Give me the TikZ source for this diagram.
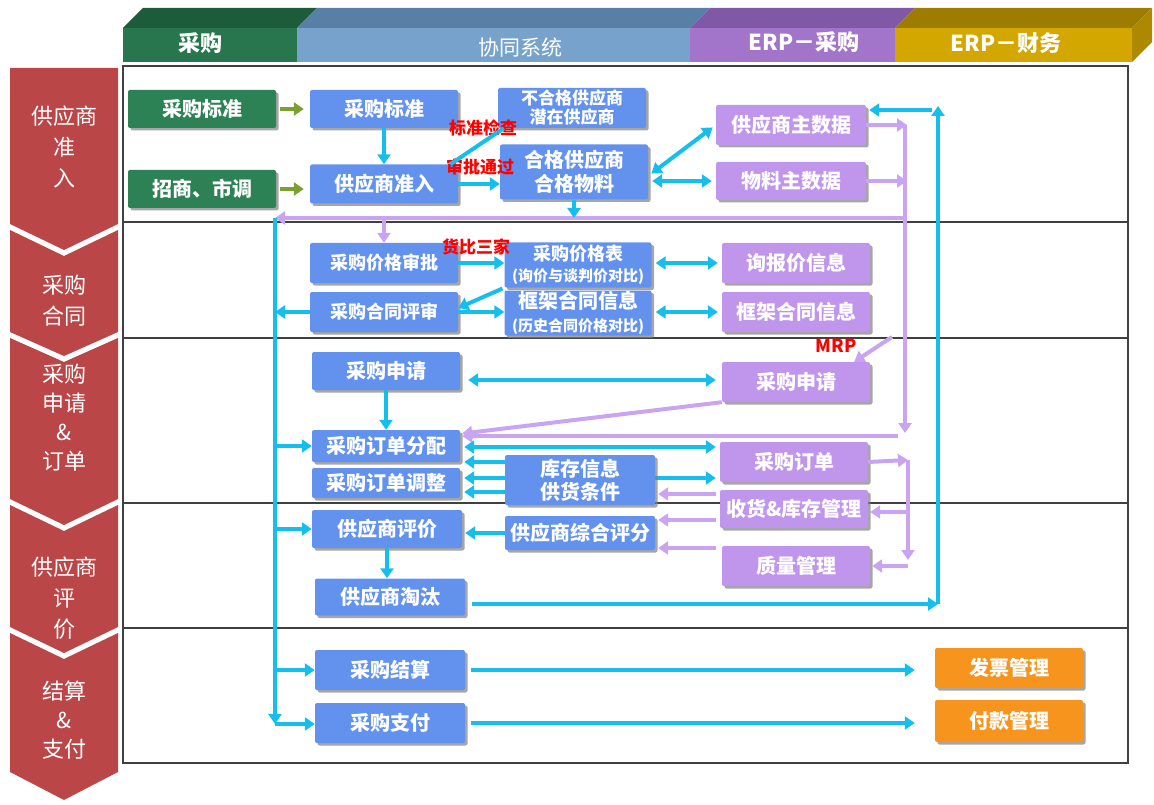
\documentclass[tikz,border=0pt]{standalone}
\usepackage{fontspec}
\setmainfont{Noto Sans CJK SC}
\usepackage{tikz}
\usetikzlibrary{arrows.meta, shadows, backgrounds, positioning}
\definecolor{boxblue}{RGB}{98,146,238}
\definecolor{boxpurple}{RGB}{192,150,236}
\definecolor{boxgreen}{RGB}{44,130,84}
\definecolor{boxorange}{RGB}{247,148,30}
\definecolor{linecyan}{RGB}{22,190,236}
\definecolor{linepurple}{RGB}{202,164,242}
\definecolor{linegreen}{RGB}{122,160,48}
\definecolor{stagered}{RGB}{186,70,72}
\definecolor{hdgreen}{RGB}{40,118,78}
\definecolor{hdgreentop}{RGB}{28,92,58}
\definecolor{hdblue}{RGB}{118,162,204}
\definecolor{hdbluetop}{RGB}{88,128,166}
\definecolor{hdpurple}{RGB}{162,116,202}
\definecolor{hdpurpletop}{RGB}{128,88,166}
\definecolor{hdgold}{RGB}{212,166,0}
\definecolor{hdgoldtop}{RGB}{158,124,0}
\tikzstyle{flowbox} = [rectangle, rounded corners=2pt, minimum width=148pt, minimum height=38pt, inner sep=0pt, text=white, align=center, font=\fontsize{20}{23}\selectfont\bfseries, drop shadow={shadow xshift=2.5pt, shadow yshift=-2.5pt, fill=black!50, opacity=0.7}]
\tikzstyle{bluebox} = [flowbox, fill=boxblue]
\tikzstyle{purplebox} = [flowbox, fill=boxpurple]
\tikzstyle{greenbox} = [flowbox, fill=boxgreen]
\tikzstyle{orangebox} = [flowbox, fill=boxorange]
\tikzstyle{cyanline} = [line width=4pt, draw=linecyan]
\tikzstyle{cyanarrow} = [cyanline, -{Triangle[width=13pt,length=10pt]}]
\tikzstyle{cyanboth} = [cyanline, {Triangle[width=13pt,length=10pt]}-{Triangle[width=13pt,length=10pt]}]
\tikzstyle{purplearrow} = [line width=4pt, draw=linepurple, -{Triangle[width=13pt,length=10pt]}]
\tikzstyle{greenarrow} = [line width=4pt, draw=linegreen, -{Triangle[width=13pt,length=10pt]}]
\tikzstyle{redlabel} = [text=red, inner sep=0pt, font=\fontsize{17}{19}\selectfont\bfseries]
\tikzstyle{stage} = [fill=stagered]
\tikzstyle{stagetext} = [text=white, align=center, inner sep=0pt, font=\fontsize{22}{31}\selectfont]
\tikzstyle{headtext} = [text=white, inner sep=0pt, font=\fontsize{22}{24}\selectfont\bfseries]

\begin{document}
\begin{tikzpicture}[x=1pt, y=-1pt]
\useasboundingbox (0,0) rectangle (1154,805);
% Header bar
\fill[hdgreentop] (123,28) -- (143,8) -- (317,8) -- (297,28) -- cycle;
\fill[hdgreen] (123,28) rectangle (297,62);
\fill[hdbluetop] (297,28) -- (317,8) -- (710,8) -- (690,28) -- cycle;
\fill[hdblue] (297,28) rectangle (690,62);
\fill[hdpurpletop] (690,28) -- (710,8) -- (915,8) -- (895,28) -- cycle;
\fill[hdpurple] (690,28) rectangle (895,62);
\fill[hdgoldtop] (895,28) -- (915,8) -- (1152,8) -- (1132,28) -- cycle;
\fill[hdgold] (895,28) rectangle (1132,62);
\fill[hdgoldtop!70!hdgold] (1132,28) -- (1152,8) -- (1152,42) -- (1132,62) -- cycle;
\node (hBuy) [headtext] at (200,43) {采购};
\node (hCoop) [headtext, font=\fontsize{21}{23}\selectfont] at (520,48) {协同系统};
\node (hErpBuy) [headtext] at (804,42) {ERP－采购};
\node (hErpFin) [headtext] at (1006,43) {ERP－财务};
% Frame and rows
\draw[black!75, line width=1.5pt] (123,66) rectangle (1128,763);
\foreach \y in {222,338,503,628}
  \draw[black!75, line width=1.5pt] (123,\y) -- (1128,\y);
% Stages
\fill[stage] (10,68) -- (118,68) -- (118,224) -- (64,250) -- (10,224) -- cycle;
\fill[stage] (10,230) -- (64,256) -- (118,230) -- (118,332) -- (64,356) -- (10,332) -- cycle;
\fill[stage] (10,338) -- (64,362) -- (118,338) -- (118,499) -- (64,525) -- (10,499) -- cycle;
\fill[stage] (10,505) -- (64,531) -- (118,505) -- (118,627) -- (64,653) -- (10,627) -- cycle;
\fill[stage] (10,633) -- (64,659) -- (118,633) -- (118,772) -- (64,800) -- (10,772) -- cycle;
\node (st1) [stagetext] at (64,147) {供应商\\准\\入};
\node (st2) [stagetext] at (64,301) {采购\\合同};
\node (st3) [stagetext, font=\fontsize{22}{29}\selectfont] at (64,418) {采购\\申请\\\&\\订单};
\node (st4) [stagetext] at (64,598) {供应商\\评\\价};
\node (st5) [stagetext, font=\fontsize{22}{29}\selectfont] at (64,720) {结算\\\&\\支付};
% Define nodes
\node (gStd) [greenbox] at (202,109) {采购标准};
\node (gBid) [greenbox] at (202,189) {招商、市调};
\node (bStd) [bluebox] at (384,109) {采购标准};
\node (bAdmit) [bluebox, minimum height=39pt] at (384,184) {供应商准入};
\node (bUnq) [bluebox, minimum height=40pt, font=\fontsize{17}{19}\selectfont\bfseries] at (572,108) {不合格供应商\\潜在供应商};
\node (bQual) [bluebox, minimum height=55pt, font=\fontsize{20}{24}\selectfont\bfseries] at (574,172) {合格供应商\\合格物料};
\node (pSup) [purplebox, minimum width=150pt, minimum height=40pt] at (791,125) {供应商主数据};
\node (pMat) [purplebox, minimum width=150pt] at (791,181) {物料主数据};
\node (bPriceAp) [bluebox, minimum height=40pt, font=\fontsize{18}{21}\selectfont\bfseries] at (384,263) {采购价格审批};
\node (bPriceTab) [bluebox, minimum width=147pt, minimum height=45pt, font=\fontsize{18}{21}\selectfont\bfseries] at (578,265) {采购价格表\\{\fontsize{15}{17}\selectfont (询价与谈判价对比)}};
\node (bContRev) [bluebox, minimum height=40pt, font=\fontsize{18}{21}\selectfont\bfseries] at (384,312) {采购合同评审};
\node (bFrame) [bluebox, minimum width=147pt, minimum height=45pt] at (578,313) {框架合同信息\\{\fontsize{15}{17}\selectfont (历史合同价格对比)}};
\node (pQuote) [purplebox, minimum height=40pt] at (796,263) {询报价信息};
\node (pFrame) [purplebox, minimum height=40pt] at (796,312) {框架合同信息};
\node (bReq) [bluebox] at (386,371) {采购申请};
\node (pReq) [purplebox, minimum height=40pt] at (796,382) {采购申请};
\node (bAlloc) [bluebox, minimum height=32pt] at (386,446) {采购订单分配};
\node (bAdj) [bluebox, minimum height=30pt] at (386,483) {采购订单调整};
\node (bStock) [bluebox, minimum width=150pt, minimum height=50pt] at (580,480) {库存信息\\供货条件};
\node (pOrder) [purplebox, minimum height=40pt] at (794,462) {采购订单};
\node (pRecv) [purplebox] at (794,509) {收货\&库存管理};
\node (pQlty) [purplebox, minimum height=40pt] at (796,566) {质量管理};
\node (bEval) [bluebox, minimum width=150pt] at (387,529) {供应商评价};
\node (bScore) [bluebox, minimum width=150pt, minimum height=34pt] at (580,533) {供应商综合评分};
\node (bElim) [bluebox, minimum width=150pt, minimum height=37pt] at (390,597) {供应商淘汰};
\node (bSettle) [bluebox, minimum width=150pt, minimum height=40pt] at (390,670) {采购结算};
\node (bPay) [bluebox, minimum width=150pt, minimum height=40pt] at (390,723) {采购支付};
\node (oInv) [orangebox, minimum height=40pt] at (1009,668) {发票管理};
\node (oPaym) [orangebox, minimum height=42pt] at (1009,721) {付款管理};
\node (lbCheck) [redlabel] at (483,128) {标准检查};
\node (lbPass) [redlabel] at (480,167) {审批通过};
\node (lbThree) [redlabel] at (476,247) {货比三家};
\node (lbMrp) [redlabel, font=\fontsize{18}{20}\selectfont\bfseries] at (836,346) {MRP};
% Junction points
\coordinate (lTop) at (275,218);
\coordinate (lBot) at (275,716);
\coordinate (pMid) at (905,218);
\coordinate (pvTop) at (905,125);
\coordinate (pvBot) at (905,433);
\coordinate (pOrdIn) at (898,436);
\coordinate (mrp) at (892,337);
\coordinate (s1) at (505,462);
\coordinate (s2) at (466,478);
\coordinate (s3) at (505,492);
\coordinate (r1) at (716,494);
\coordinate (r2) at (716,520);
\coordinate (r3) at (716,548);
\coordinate (qTop) at (908,460);
\coordinate (qBot) at (908,560);
\coordinate (q1) at (908,512);
\coordinate (q2) at (908,566);
\coordinate (elim) at (472,604);
\coordinate (rvBot) at (938,604);
\coordinate (rvTop) at (938,106);
\coordinate (rvTurn) at (932,110);
% Connect nodes with arrows
\begin{scope}[on background layer]
\draw[cyanboth, shorten <=4pt, shorten >=4pt] (s2 -| bAdj.east) -- (s2 -| pOrder.west);
\end{scope}
\draw[greenarrow, shorten <=4pt, shorten >=6pt] (gStd) -- (bStd);
\draw[greenarrow, shorten <=4pt, shorten >=6pt] (gBid.east) -- (gBid.east -| bAdmit.west);
\draw[cyanarrow] (bStd) -- (bAdmit);
\draw[cyanline] ([xshift=-8pt]bAdmit.north east) -- ([xshift=6pt]bUnq.south west);
\draw[cyanarrow] (bAdmit.east) -- (bAdmit.east -| bQual.west);
\draw[cyanboth, shorten <=4pt, shorten >=4pt] ([yshift=-4pt]bQual.east) -- (pSup.west);
\draw[cyanboth, shorten <=4pt, shorten >=4pt] (pMat.west -| bQual.east) -- (pMat.west);
\draw[purplearrow, shorten >=-2pt] (pSup.east) -- (pSup.east -| pvTop);
\draw[purplearrow, shorten >=-2pt] (pMat.east) -- (pMat.east -| pvTop);
\draw[purplearrow] (pvTop) -- (pvBot);
\draw[purplearrow] (pMid) -- (lTop);
\draw[cyanarrow] (bQual.south) -- (bQual.south |- pMid);
\draw[purplearrow] (bPriceAp.north |- pMid) -- (bPriceAp.north);
\draw[cyanline] (lTop) -- (lBot);
\draw[cyanarrow, shorten >=-4pt] (lBot) -- ++(0,4);
\draw[cyanarrow] (bPriceAp.east) -- (bPriceAp.east -| bPriceTab.west);
\draw[cyanarrow, shorten <=2pt] (bPriceTab.south west) -- ([yshift=4pt]bContRev.east);
\draw[cyanarrow] (bContRev.east) -- (bContRev.east -| bFrame.west);
\draw[cyanarrow] (bContRev.west) -- (bContRev.west -| lTop);
\draw[cyanboth, shorten <=4pt, shorten >=4pt] (pQuote.west -| bPriceTab.east) -- (pQuote.west);
\draw[cyanboth, shorten <=4pt, shorten >=4pt] (pFrame.west -| bFrame.east) -- (pFrame.west);
\draw[cyanboth, shorten <=8pt, shorten >=6pt] ([yshift=-9pt]bReq.east) -- ([yshift=-9pt]bReq.east -| pReq.west);
\draw[purplearrow] (mrp) -- ([xshift=-16pt]pReq.north east);
\draw[cyanarrow] (bReq) -- (bAlloc);
\draw[purplearrow, shorten >=2pt] (pReq.south west) -- ([yshift=-4pt]bAlloc.north east);
\draw[purplearrow, shorten >=2pt] (pOrdIn) -- (pOrdIn -| bAlloc.east);
\draw[cyanboth, shorten <=4pt, shorten >=4pt] ([yshift=-1pt]bAlloc.east) -- ([yshift=-1pt]bAlloc.east -| pOrder.west);
\draw[cyanarrow, shorten >=4pt] (s1) -- (s1 -| bAlloc.east);
\draw[cyanarrow, shorten >=4pt] (s3) -- (s3 -| bAdj.east);
\draw[purplearrow, shorten >=3pt] (r1) -- (r1 -| bStock.east);
\draw[purplearrow, shorten >=3pt] (r2) -- (r2 -| bScore.east);
\draw[purplearrow, shorten >=3pt] (r3) -- (r3 -| bScore.east);
\draw[purplearrow] (pOrder.east) -- (qTop);
\draw[purplearrow] (qTop) -- (qBot);
\draw[purplearrow, shorten >=2pt] (q1) -- (q1 -| pRecv.east);
\draw[purplearrow, shorten >=2pt] (q2) -- (q2 -| pQlty.east);
\draw[cyanarrow, shorten >=3pt] (bScore.west) -- (bScore.west -| bEval.east);
\draw[cyanarrow] (bEval.south) -- (bEval.south |- bElim.north);
\draw[cyanarrow] (elim) -- (rvBot);
\draw[cyanarrow] (rvBot) -- (rvTop);
\draw[cyanarrow, shorten >=3pt] (rvTurn) -- (rvTurn -| pSup.east);
\draw[cyanarrow] (bEval.west -| lTop) -- (bEval.west);
\draw[cyanarrow] (bAlloc.west -| lTop) -- (bAlloc.west);
\draw[cyanarrow] (bSettle.west -| lTop) -- (bSettle.west);
\draw[cyanarrow] ([yshift=-1pt]bPay.west -| lTop) -- ([yshift=-1pt]bPay.west);
\draw[cyanarrow, shorten <=6pt, shorten >=20pt] (bSettle.east) -- (bSettle.east -| oInv.west);
\draw[cyanarrow, shorten <=6pt, shorten >=20pt] (bPay.east) -- (bPay.east -| oPaym.west);
\end{tikzpicture}
\end{document}
